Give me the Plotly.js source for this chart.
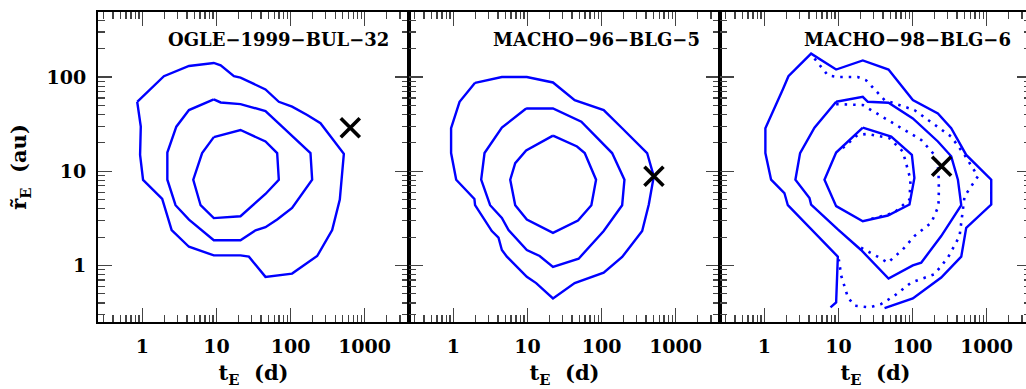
<!DOCTYPE html>
<html>
<head>
<meta charset="utf-8">
<script src="https://cdn.plot.ly/plotly-3.0.1.min.js"></script>
<style>
html,body{margin:0;padding:0;overflow:hidden;background:#fff;}
#chart{width:1037px;height:389px;}
</style>
</head>
<body>
<div id="chart"></div>
<script>
// ---- data (t_E in days, r~_E in au) ----
const panelTitles = ["OGLE−1999−BUL−32", "MACHO−96−BLG−5", "MACHO−98−BLG−6"];
const xTickVals = [1, 10, 100, 1000];
const xTickText = ["1", "10", "100", "1000"];
const yTickVals = [1, 10, 100];
const yTickText = ["1", "10", "100"];

// Panel 1: OGLE-1999-BUL-32
const p1OuterT = [0.85,0.95,0.93,1.02,1.85,2.48,4.25,9.2,21.1,27.4,45.9,105,229,365,463,525,254,168,105,69.5,45.9,21.1,17.2,11.4,9.2,4.25,1.95,0.85];
const p1OuterR = [54.6,29.7,14.9,8.1,5.1,2.37,1.58,1.28,1.28,1.24,0.757,0.82,1.26,2.37,5.0,15.3,32.3,39.5,48.4,54.6,73.8,98.7,102,133,141,131,102,54.6];
const p1MidT = [9.2,11.4,21.1,45.9,77.1,186,196,105,66,45.9,33.7,21.1,9.2,6.4,4.25,2.8,2.17,2.17,2.87,4.25,9.2];
const p1MidR = [57.8,53.7,51.6,43.5,29.7,15.6,8.13,4.08,3.07,2.55,2.36,1.85,1.85,2.37,3.07,4.36,8.13,15.8,29.7,44.6,57.8];
const p1InT = [9.2,21.1,45.9,66,69.5,45.9,21.1,9.2,6.1,4.86,6.4,9.2];
const p1InR = [23.0,27.4,20.7,15.6,8.13,5.74,3.33,3.18,4.36,8.13,15.6,23.0];

// Panel 2: MACHO-96-BLG-5
const p2OuterT = [1.96,4.51,9.8,22.1,43.4,107,190,413,508,435,354,190,107,43.4,22.1,13.1,9.8,5.27,4.51,4.06,3.30,1.96,1.92,1.09,0.93,0.93,1.21,1.96];
const p2OuterR = [86.7,100,100,87.5,56.9,44.6,28.6,15.6,8.82,4.43,2.32,1.23,0.84,0.65,0.447,0.65,0.757,1.24,1.46,1.97,2.32,4.36,5.08,8.13,15.6,28.6,54.6,86.7];
const p2MidT = [9.6,22.1,53.4,139,204,190,107,49.1,22.1,14.6,9.8,5.55,4.51,3.13,2.37,2.63,4.51,9.6];
const p2MidR = [46.4,46.4,33.6,15.6,8.13,4.36,2.32,1.18,0.966,1.26,1.46,2.37,3.2,4.36,8.13,15.6,29.0,46.4];
const p2InT = [22.1,46.7,59.3,84.4,72.9,48.1,22.1,9.8,6.83,5.85,6.83,9.6,22.1];
const p2InR = [23.9,18.3,15.6,8.13,4.36,3.0,2.22,3.07,4.36,8.13,12.2,16.6,23.9];

// Panel 3: MACHO-98-BLG-6 (solid)
const p3OuterT = [7.8,9.3,9.8,2.07,1.86,1.23,1.03,1.03,1.77,2.11,4.27,9.3,21.3,47.4,101,220,333,531,1156,1156,531,455,244,179,101,41.9];
const p3OuterR = [0.359,0.405,1.24,4.36,5.87,8.13,15.6,28.6,73.8,102,177,120,150,120,56.9,41.1,28.6,14.9,8.13,4.43,2.51,1.24,0.745,0.618,0.447,0.353];
const p3MidT = [9.3,21.3,24.9,47.4,101,220,333,410,455,244,131,101,47.4,20.2,9.8,4.27,4.06,2.62,3.03,4.74,9.3];
const p3MidR = [54.6,61.7,54.6,53.3,36.4,20.7,14.4,8.13,4.36,2.05,1.07,1.0,0.726,1.46,2.41,4.43,5.21,8.13,15.6,29.0,54.6];
const p3InT = [21.3,51.5,98,106,91,46.4,21.3,9.3,6.47,9.3,21.3];
const p3InR = [29.0,23.3,14.9,8.47,4.43,3.39,2.95,4.26,8.13,15.8,29.0];
// Panel 3 (dotted)
const p3DotInT = [11.4,18.2,24.9,48.9,74,82,94,91,56,27.6];
const p3DotInR = [17.6,24.3,24.9,22.4,16.2,12.2,8.13,5.0,3.61,3.12];
const p3DotMidT = [9.3,21.3,27.6,70.3,131,198,224,227,224,179,106,74,46.4,35.8,18.2];
const p3DotMidR = [51.6,50.4,44.6,28.6,21.5,14.9,10.4,6.38,4.26,2.84,2.05,1.48,1.07,1.21,1.61];
const p3DotOutT = [4.74,7.2,9.8,18.2,23.6,41.9,106,198,333,504,764,504,432,300,198,96,57,37.7,26.2,16.5,13.4,10.9,10.1];
const p3DotOutR = [157,104,100,100,92.4,56.9,44.6,31.0,23.3,14.9,8.82,5.42,2.05,1.21,0.807,0.659,0.477,0.39,0.359,0.374,0.458,0.776,1.16];

// Crosses (best-fit values)
const crossT = [641, 510, 247];
const crossR = [28.9, 8.85, 11.3];

// ---- build traces ----
const BLUE = '#0000ff';
function solid(x, y, ax) {
  return {x: x, y: y, xaxis: ax[0], yaxis: ax[1], type: 'scatter', mode: 'lines',
          line: {color: BLUE, width: 2.4}, hoverinfo: 'skip', showlegend: false};
}
function dotted(x, y, ax) {
  return {x: x, y: y, xaxis: ax[0], yaxis: ax[1], type: 'scatter', mode: 'lines',
          line: {color: BLUE, width: 2.6, dash: '2.5px,6px'}, hoverinfo: 'skip', showlegend: false};
}
const A1 = ['x', 'y'], A2 = ['x2', 'y2'], A3 = ['x3', 'y3'];
const traces = [
  solid(p1OuterT, p1OuterR, A1), solid(p1MidT, p1MidR, A1), solid(p1InT, p1InR, A1),
  solid(p2OuterT, p2OuterR, A2), solid(p2MidT, p2MidR, A2), solid(p2InT, p2InR, A2),
  solid(p3OuterT, p3OuterR, A3), solid(p3MidT, p3MidR, A3), solid(p3InT, p3InR, A3),
  dotted(p3DotInT, p3DotInR, A3), dotted(p3DotMidT, p3DotMidR, A3), dotted(p3DotOutT, p3DotOutR, A3)
];
[A1, A2, A3].forEach(function (ax, i) {
  traces.push({x: [crossT[i]], y: [crossR[i]], xaxis: ax[0], yaxis: ax[1], type: 'scatter', mode: 'markers',
    marker: {symbol: 'x-thin', size: 19, line: {width: 3.6, color: 'black'}}, hoverinfo: 'skip', showlegend: false});
});

const tickFont = {family: 'DejaVu Serif', size: 19, weight: 'bold', color: 'black'};
const titleFont = {family: 'DejaVu Serif', size: 21, weight: 'bold', color: 'black'};
const minorTicks = {ticks: 'inside', ticklen: 7, tickwidth: 1.2, tickcolor: '#444', dtick: 'D1', showgrid: false};

function xAxis(domain, anchor) {
  return {type: 'log', range: [-0.6, 3.6], domain: domain, anchor: anchor,
    tickmode: 'array', tickvals: xTickVals, ticktext: xTickText,
    ticks: 'inside', ticklen: 14, tickwidth: 1.2, tickcolor: '#444',
    minor: minorTicks, showgrid: false, zeroline: false,
    showline: true, linewidth: 2, linecolor: 'black', mirror: 'allticks',
    tickfont: tickFont, ticklabelstandoff: 6,
    title: {text: 't<sub>E</sub>\u00a0\u00a0(d)', font: titleFont, standoff: 10}};
}
function yAxis(anchor, showLabels) {
  const a = {type: 'log', range: [-0.6, 2.69], domain: [0, 1], anchor: anchor,
    tickmode: 'array', tickvals: yTickVals, ticktext: yTickText,
    ticks: 'inside', ticklen: 14, tickwidth: 1.2, tickcolor: '#444',
    minor: minorTicks, showgrid: false, zeroline: false,
    showline: true, linewidth: 2, linecolor: 'black', mirror: 'allticks',
    showticklabels: showLabels, tickfont: tickFont, ticklabelstandoff: 6};
  if (showLabels) {
    a.title = {text: 'r\u0303<sub>E</sub>\u00a0\u00a0(au)', font: titleFont, standoff: 14};
  } else {
    a.matches = 'y';
  }
  return a;
}

const annotations = panelTitles.map(function (t, i) {
  return {text: t, xref: (i === 0 ? 'x' : 'x' + (i + 1)) + ' domain', yref: 'paper',
    x: 1, y: 1, xanchor: 'right', yanchor: 'top', xshift: -18, yshift: -15, showarrow: false,
    font: {family: 'DejaVu Serif', size: 18, weight: 'bold', color: 'black'}};
});

const layout = {
  width: 1037, height: 389,
  margin: {l: 98, r: 6, t: 12, b: 67},
  paper_bgcolor: 'white', plot_bgcolor: 'white',
  showlegend: false,
  xaxis: xAxis([0, 1/3], 'y'),
  xaxis2: xAxis([1/3, 2/3], 'y2'),
  xaxis3: xAxis([2/3, 1], 'y3'),
  yaxis: yAxis('x', true),
  yaxis2: yAxis('x2', false),
  yaxis3: yAxis('x3', false),
  annotations: annotations
};

Plotly.newPlot('chart', traces, layout, {displayModeBar: false, staticPlot: true});
</script>
</body>
</html>
